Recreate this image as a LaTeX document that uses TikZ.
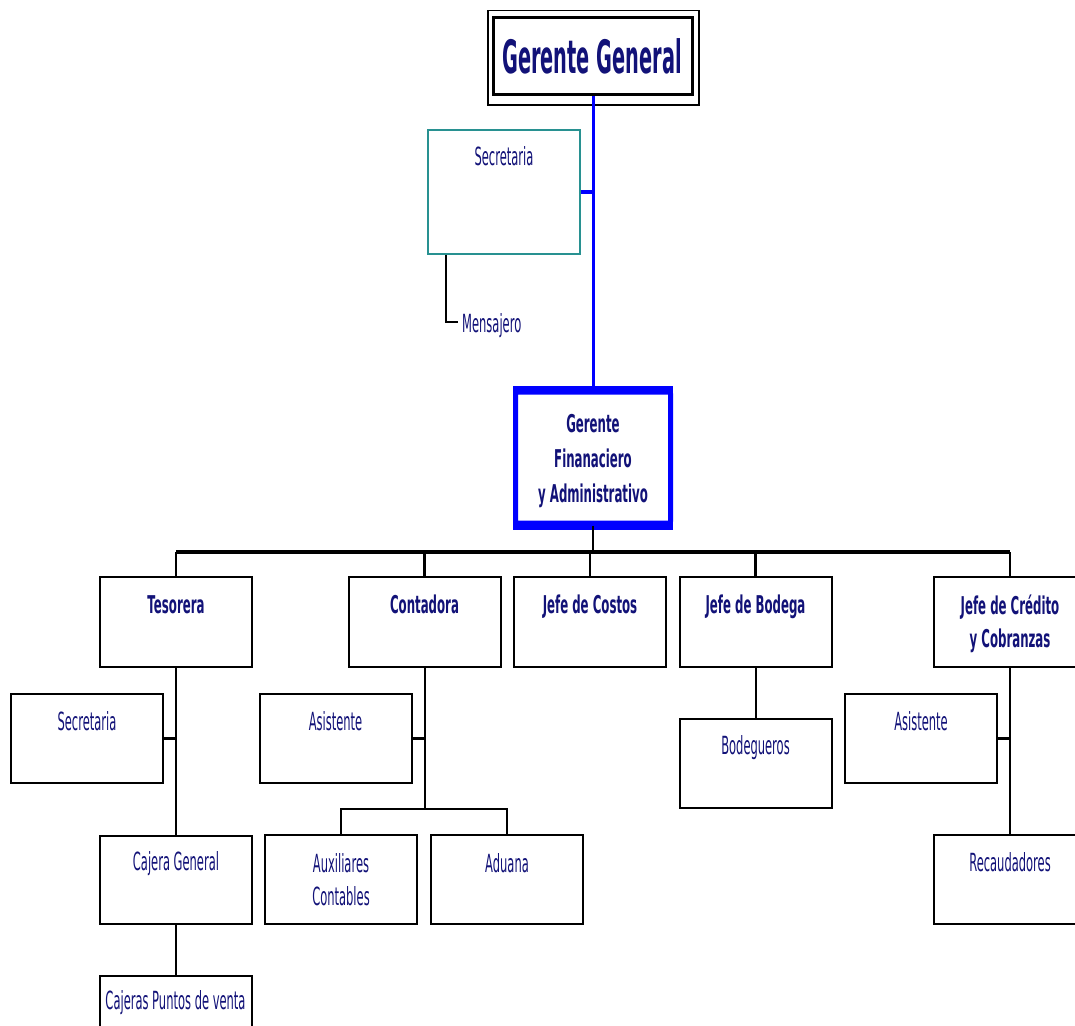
\documentclass[tikz,border=0pt]{standalone}
\usepackage{fontspec}
\usetikzlibrary{calc}
\newfontfamily\regfont[FakeStretch=0.46]{DejaVu Sans}
\newfontfamily\boldfont[FakeStretch=0.48]{DejaVu Sans}
\newfontfamily\titlefont[FakeStretch=0.42]{DejaVu Sans}
\definecolor{navytext}{RGB}{18,18,120}
\definecolor{tealline}{RGB}{40,145,145}
\definecolor{chartblue}{RGB}{0,0,255}

\tikzset{
  unitbox/.style={draw=black, line width=2pt, minimum width=152pt, minimum height=90pt, inner sep=0pt},
  regtext/.style={text=navytext, font=\regfont\fontsize{25}{33}\selectfont, inner sep=0pt, anchor=base, align=center},
  boldtext/.style={text=navytext, font=\boldfont\bfseries\fontsize{24.5}{33}\selectfont, inner sep=0pt, anchor=base, align=center},
  link/.style={draw=black, line width=2pt},
  sidelink/.style={draw=black, line width=3pt},
  droplink/.style={draw=black, line width=2.5pt},
  buslink/.style={draw=black, line width=4pt},
}

\begin{document}
\begin{tikzpicture}[x=1pt,y=-1pt]
\useasboundingbox (0,0) rectangle (1075,1025);
\clip (0,0) rectangle (1075,1025);
\fill[white] (0,0) rectangle (1075,1025);

% --- general manager, double frame
\node[draw=black, line width=3.5pt, minimum width=199pt, minimum height=77pt, inner sep=0pt] (gg) at (593,56) {};
\draw[line width=1.5pt] ($(gg.north west)+(-4,-5)$) rectangle ($(gg.south east)+(4.5,8.5)$);
\node[text=navytext, font=\titlefont\bfseries\fontsize{46}{50}\selectfont, inner sep=0pt, anchor=base] (ggT) at (592,74) {Gerente General};

% --- staff of the general manager
\node[draw=tealline, line width=1.5pt, minimum width=152pt, minimum height=124pt, inner sep=0pt] (sec1) at (504,192) {};
\node[regtext] (sec1T) at ($(sec1.north)+(0,36)$) {Secretaria};
\node[regtext, anchor=base west] (men) at (462,332) {Mensajero};
\coordinate (menTop) at ($(sec1.south west)+(18.7,0)$);
\draw[link] (menTop) |- ($(men.base west)+(-4,-10)$);

% --- financial and administrative manager
\node[draw=chartblue, line width=5pt, rounded corners=2pt, minimum width=155pt, minimum height=131pt, inner sep=0pt] (gf) at (593,457.5) {};
\draw[chartblue, line width=8pt] (gf.north west) -- (gf.north east);
\draw[chartblue, line width=8pt] (gf.south west) -- (gf.south east);
% multi-line labels are placed by the baseline of their last line
\node[text=navytext, font=\boldfont\bfseries\fontsize{24.5}{35}\selectfont, inner sep=0pt, anchor=base, align=center] (gfT) at (593,502) {Gerente\\Finanaciero\\y Administrativo};

\draw[chartblue, line width=3pt] (gg.south) -- (gf.north);
\draw[chartblue, line width=4.5pt] (sec1.east) -- (sec1.east -| gg.south);

% --- department heads
\node[unitbox] (tes) at (176,622) {};
\node[unitbox] (con) at (424.5,622) {};
\node[unitbox] (cos) at (590,622) {};
\node[unitbox] (bod) at (755.5,622) {};
\node[unitbox] (cre) at (1010,622) {};
\node[boldtext] (tesT) at ($(tes.north)+(0,37)$) {Tesorera};
\node[boldtext] (conT) at ($(con.north)+(0,37)$) {Contadora};
\node[boldtext] (cosT) at ($(cos.north)+(0,37)$) {Jefe de Costos};
\node[boldtext] (bodT) at ($(bod.north)+(0,37)$) {Jefe de Bodega};
\node[boldtext] (creT) at ($(cre.north)+(0,71)$) {Jefe de Crédito\\y Cobranzas};

\coordinate (bus) at (593,552);
\draw[droplink] (gf.south) -- (bus);
\draw[buslink] (tes.north |- bus) -- (cre.north |- bus);
\foreach \n in {tes,con,cos,bod,cre} {
  \draw[droplink] (\n.north |- bus) -- (\n.north);
}

% --- treasury
\node[unitbox, minimum height=89pt] (sec2) at (87,738.5) {};
\node[unitbox, minimum height=88pt] (caj) at (176,879.5) {};
\node[unitbox] (cpv) at (175.5,1021) {};
\node[regtext] (sec2T) at ($(sec2.north)+(0,37)$) {Secretaria};
\node[regtext] (cajT) at ($(caj.north)+(0,36)$) {Cajera General};
\node[regtext] (cpvT) at ($(cpv.north)+(0,34)$) {Cajeras Puntos de venta};
\draw[link] (tes.south) -- (caj.north);
\draw[sidelink] (sec2.east) -- (sec2.east -| tes.south);
\draw[link] (caj.south) -- (cpv.north -| caj.south);

% --- accounting
\node[unitbox, minimum height=89pt] (asi1) at (335.5,738.5) {};
\node[unitbox, minimum height=89pt] (aux) at (341,879.5) {};
\node[unitbox, minimum height=89pt] (adu) at (507,879.5) {};
\node[regtext] (asi1T) at ($(asi1.north)+(0,37)$) {Asistente};
\node[regtext] (auxT) at ($(aux.north)+(0,71)$) {Auxiliares\\Contables};
\node[regtext] (aduT) at ($(adu.north)+(0,38)$) {Aduana};
\coordinate (cbus) at (424,809);
\draw[link] (con.south) -- (con.south |- cbus);
\draw[link] (aux.north) |- (con.south |- cbus) -| (adu.north);
\draw[sidelink] (asi1.east) -- (asi1.east -| con.south);

% --- warehouse
\node[unitbox, minimum height=89pt] (bog) at (755.5,763.5) {};
\node[regtext] (bogT) at ($(bog.north)+(0,36)$) {Bodegueros};
\draw[link] (bod.south) -- (bog.north);

% --- credit and collections
\node[unitbox, minimum height=89pt] (asi2) at (921,738.5) {};
\node[unitbox, minimum height=89pt] (rec) at (1010,879.5) {};
\node[regtext] (asi2T) at ($(asi2.north)+(0,37)$) {Asistente};
\node[regtext] (recT) at ($(rec.north)+(0,37)$) {Recaudadores};
\draw[link] (cre.south) -- (rec.north);
\draw[sidelink] (asi2.east) -- (asi2.east -| cre.south);
\end{tikzpicture}
\end{document}
